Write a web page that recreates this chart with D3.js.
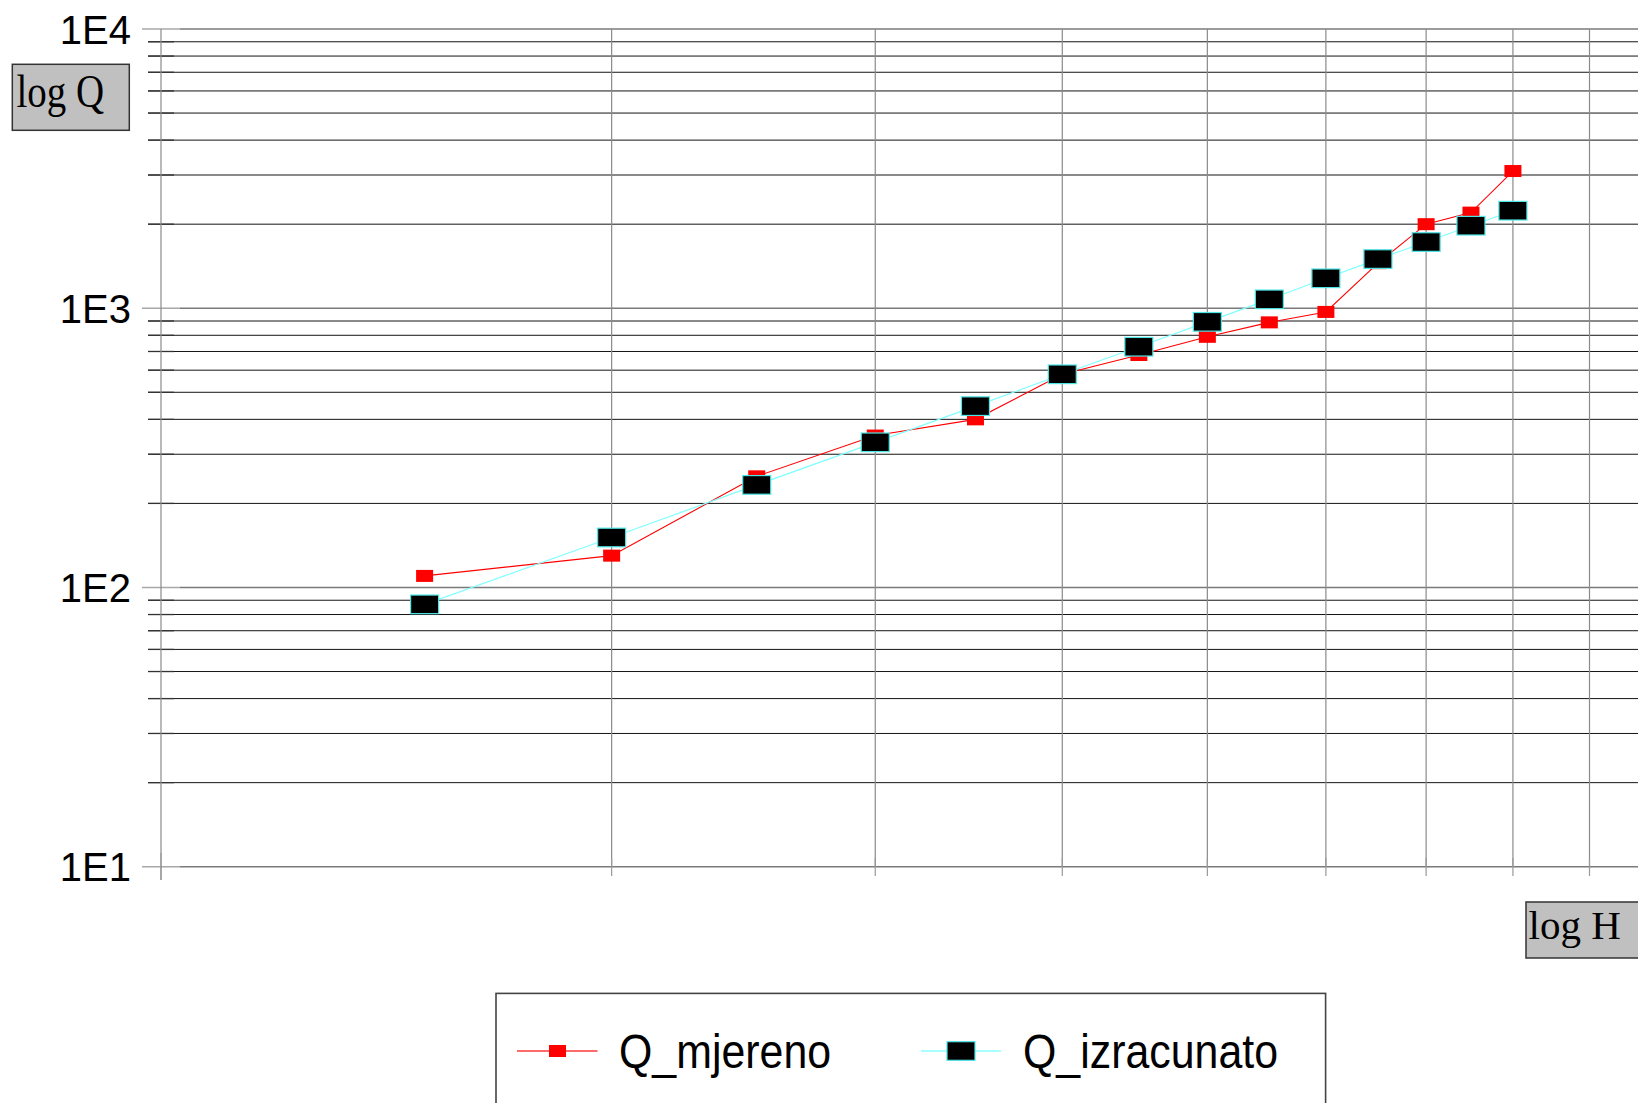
<!DOCTYPE html>
<html>
<head>
<meta charset="utf-8">
<script src="https://cdn.jsdelivr.net/npm/d3@7"></script>
<style>
  html, body { margin: 0; padding: 0; background: #fff; overflow: hidden; }
  svg { display: block; }
</style>
</head>
<body>
<svg id="chart" width="1638" height="1103"></svg>
<script>
// Rating curve: measured vs. computed discharge against stage (log-log)
const stageH = [1.5, 2, 2.5, 3, 3.5, 4, 4.5, 5, 5.5, 6, 6.5, 7, 7.5, 8];
const qMjereno = [110, 130, 250, 350, 400, 580, 680, 790, 890, 970, 1450, 2000, 2200, 3100];
const qIzracunato = [87, 151, 233, 331, 446, 580, 728, 894, 1076, 1280, 1500, 1726, 1975, 2235];
const seriesNames = ["Q_mjereno", "Q_izracunato"];
const yMajorTicks = [10, 100, 1000, 10000];
const yTickLabels = ["1E1", "1E2", "1E3", "1E4"];
const xGridValues = [1, 2, 3, 4, 5, 6, 7, 8, 9, 10];
const axisTitleY = "log Q";
const axisTitleX = "log H";

const svg = d3.select("#chart");
const W = 1638;

const x = d3.scaleLog().domain([1, 10]).range([161, 1658]);
const y = d3.scaleLog().domain([10, 10000]).range([866.7, 29]);

// minor decade values 2..9 x 10^k
const yMinor = [];
[10, 100, 1000].forEach(dec => { for (let k = 2; k <= 9; k++) yMinor.push(dec * k); });

const grid = svg.append("g");

// horizontal minor gridlines
grid.selectAll("line.hmin").data(yMinor).join("line")
  .attr("x1", 148).attr("x2", W)
  .attr("y1", d => y(d)).attr("y2", d => y(d))
  .attr("stroke", "#151515").attr("stroke-width", 1);
// darker inner tick part
grid.selectAll("line.hminTick").data(yMinor).join("line")
  .attr("x1", 148).attr("x2", 174)
  .attr("y1", d => y(d)).attr("y2", d => y(d))
  .attr("stroke", "#333").attr("stroke-width", 1.3);

// horizontal major gridlines
grid.selectAll("line.hmaj").data(yMajorTicks).join("line")
  .attr("x1", 180).attr("x2", W)
  .attr("y1", d => y(d)).attr("y2", d => y(d))
  .attr("stroke", "#7a7a7a").attr("stroke-width", 1.4);
grid.selectAll("line.hmajTick").data(yMajorTicks).join("line")
  .attr("x1", 142).attr("x2", 180)
  .attr("y1", d => y(d)).attr("y2", d => y(d))
  .attr("stroke", "#a8a8a8").attr("stroke-width", 1.4);

// vertical gridlines
grid.selectAll("line.v").data(xGridValues).join("line")
  .attr("x1", d => x(d)).attr("x2", d => x(d))
  .attr("y1", y(10000))
  .attr("y2", d => d === 1 ? 880 : y(10))
  .attr("stroke", "#8a8a8a").attr("stroke-width", 1.2);
// bottom tick marks
grid.selectAll("line.vt").data(xGridValues).join("line")
  .attr("x1", d => x(d)).attr("x2", d => x(d))
  .attr("y1", d => d === 1 ? 853 : 858)
  .attr("y2", d => d === 1 ? 880 : 876)
  .attr("stroke", "#999").attr("stroke-width", 1.2);

// y tick labels
svg.append("g").selectAll("text").data(yMajorTicks).join("text")
  .attr("x", 131)
  .attr("y", d => y(d) + 14.5)
  .attr("text-anchor", "end")
  .attr("font-family", "Liberation Sans, Arial, sans-serif")
  .attr("font-size", 40)
  .attr("fill", "#000")
  .text((d, i) => yTickLabels[i]);

// data lines and markers
const pts1 = stageH.map((h, i) => ({ h, q: qMjereno[i] }));
const pts2 = stageH.map((h, i) => ({ h, q: qIzracunato[i] }));
const line = d3.line().x(d => x(d.h)).y(d => y(d.q));

const plot = svg.append("g");
plot.append("path").datum(pts1).attr("d", line)
  .attr("fill", "none").attr("stroke", "#ff0000").attr("stroke-width", 1.1);
plot.selectAll("rect.m1").data(pts1).join("rect")
  .attr("x", d => x(d.h) - 8.5).attr("y", d => y(d.q) - 6)
  .attr("width", 17).attr("height", 12)
  .attr("fill", "#ff0000");

plot.append("path").datum(pts2).attr("d", line)
  .attr("fill", "none").attr("stroke", "#80ffff").attr("stroke-width", 1.2);
plot.selectAll("rect.m2").data(pts2).join("rect")
  .attr("x", d => x(d.h) - 14).attr("y", d => y(d.q) - 9.3)
  .attr("width", 28).attr("height", 18.6)
  .attr("fill", "#000").attr("stroke", "#4fe6e6").attr("stroke-width", 1.2);

// axis title boxes
function titleBox(bx, by, bw, bh, tx, ty, label, sx, sy) {
  const g = svg.append("g");
  g.append("rect").attr("x", bx).attr("y", by).attr("width", bw).attr("height", bh)
    .attr("fill", "#c0c0c0").attr("stroke", "#333").attr("stroke-width", 1.5);
  g.append("text")
    .attr("transform", `translate(${tx},${ty}) scale(${sx},${sy})`)
    .attr("font-family", "Liberation Serif, Times New Roman, serif")
    .attr("font-size", 41)
    .attr("fill", "#000")
    .text(label);
}
titleBox(12.3, 64.3, 117, 66, 16.5, 107, axisTitleY, 0.95, 1.15);
titleBox(1526, 902, 130, 56, 1528.5, 939, axisTitleX, 1, 1);

// legend
const legend = svg.append("g");
legend.append("rect").attr("x", 496).attr("y", 993.4).attr("width", 829.6).attr("height", 140)
  .attr("fill", "#fff").attr("stroke", "#444").attr("stroke-width", 1.6);
const legY = 1051;
const legItems = [
  { name: seriesNames[0], x1: 517, x2: 597.5, mx: 557.5, tx: 619,
    lineColor: "#ff6a6a", mw: 17, mh: 12, fill: "#ff0000", stroke: "none" },
  { name: seriesNames[1], x1: 921, x2: 1001, mx: 961, tx: 1023,
    lineColor: "#a8ffff", mw: 28, mh: 18.6, fill: "#000", stroke: "#4fe6e6" }
];
legItems.forEach(it => {
  legend.append("line").attr("x1", it.x1).attr("x2", it.x2)
    .attr("y1", legY).attr("y2", legY)
    .attr("stroke", it.lineColor).attr("stroke-width", 2);
  legend.append("rect").attr("x", it.mx - it.mw / 2).attr("y", legY - it.mh / 2)
    .attr("width", it.mw).attr("height", it.mh)
    .attr("fill", it.fill).attr("stroke", it.stroke).attr("stroke-width", 1.2);
  legend.append("text")
    .attr("transform", `translate(${it.tx},${legY + 16.5}) scale(0.975,1.08)`)
    .attr("font-family", "Liberation Sans, Arial, sans-serif")
    .attr("font-size", 44)
    .attr("fill", "#000")
    .text(it.name);
});
</script>
</body>
</html>
